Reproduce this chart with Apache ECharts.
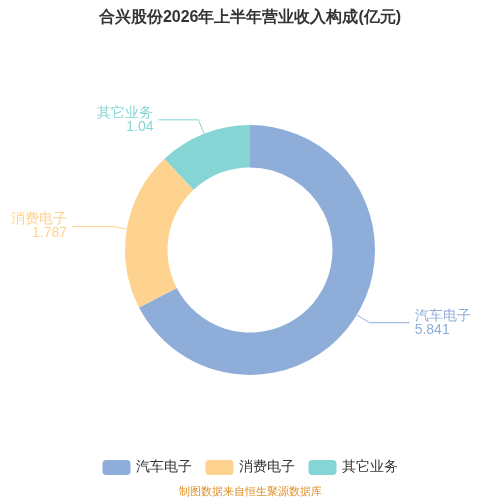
<!DOCTYPE html>
<html><head><meta charset="utf-8">
<script src="https://cdn.jsdelivr.net/npm/echarts@6/dist/echarts.min.js"></script>
</head><body style="margin:0">
<div id="c" style="width:500px;height:500px"></div>
<script>
const categories = ['汽车电子', '消费电子', '其它业务'];
const values = [5.841, 1.787, 1.04];
const colors = ['#8eadd9', '#fdd38f', '#86d5d5'];
const chart = echarts.init(document.getElementById('c'));
chart.setOption({
  title: {text: '合兴股份2026年上半年营业收入构成(亿元)', left: 'center', top: 5,
    textStyle: {fontSize: 16, fontWeight: 'bold', color: '#333'}},
  color: colors,
  legend: {bottom: 20, itemWidth: 28, itemHeight: 15, itemGap: 14, textStyle: {fontSize: 14, color: '#333'},
    data: categories},
  graphic: [{type: 'text', left: 'center', bottom: 3,
    style: {text: '制图数据来自恒生聚源数据库', fill: '#e0902a', fontSize: 11}}],
  series: [{
    type: 'pie', radius: ['33%', '50%'], center: ['50%', '50%'],
    startAngle: 90,
    label: {formatter: '{b}\n{c}', fontSize: 14, color: 'inherit'},
    labelLine: {length: 15, length2: 40},
    data: categories.map((n, i) => ({name: n, value: values[i],
      label: {color: colors[i]}}))
  }]
});
</script></body></html>
